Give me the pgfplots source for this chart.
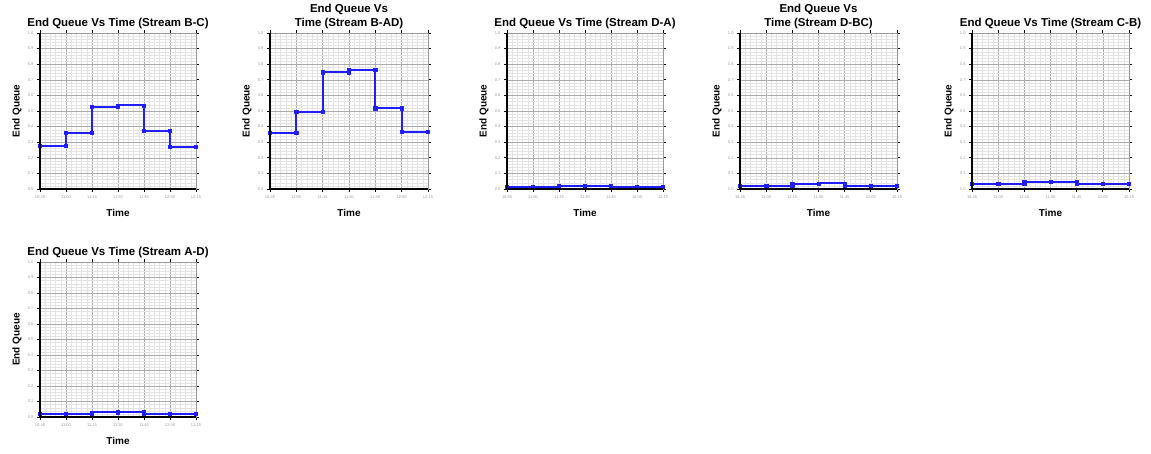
\documentclass[border=0pt]{standalone}
\usepackage{fontspec}
\setmainfont{Liberation Sans}
\usepackage{pgfplots}
\pgfplotsset{compat=1.18}
\definecolor{qblue}{RGB}{30,30,255}
\pgfplotsset{qstyle/.style={
  scale only axis, width=156pt, height=156pt,
  xmin=0, xmax=6, ymin=0, ymax=1,
  xtick={0,1,2,3,4,5,6},
  xticklabels={10:45,11:00,11:15,11:30,11:45,12:00,12:15},
  ytick={0,0.1,0.2,0.3,0.4,0.5,0.6,0.7,0.8,0.9,1.0},
  yticklabel style={/pgf/number format/.cd,fixed,fixed zerofill,precision=1},
  /pgf/number format/assume math mode=true,
  ticklabel style={font=\fontsize{4}{4}\selectfont, text=gray!80},
  minor x tick num=4, minor y tick num=4,
  grid=both,
  major grid style={gray!65, line width=0.5pt},
  minor grid style={gray!22, line width=0.4pt},
  tick align=outside, major tick length=3pt, minor tick length=0pt,
  tick style={black, line width=0.8pt},
  axis line style={gray!80, line width=0.6pt},
  title style={font=\bfseries\fontsize{11.5}{14}\selectfont, align=center,
    at={(0.5,1)}, anchor=south, inner sep=0pt, yshift=-2.5pt},
  xlabel={Time}, ylabel={End Queue},
  every axis x label/.style={at={(axis description cs:0.5,0)}, anchor=center,
    yshift=-24pt, font=\bfseries\fontsize{10}{12}\selectfont},
  every axis y label/.style={at={(axis description cs:0,0.5)}, xshift=-23pt,
    rotate=90, anchor=center, font=\bfseries\fontsize{10}{12}\selectfont},
  extra description/.code={\draw[black, line width=1.4pt] (0,1) -- (0,0) -- (1,0);},
},
qline/.style={draw=qblue, line width=2.1pt, line join=round, mark=square*, mark size=1.6pt,
  mark options={solid, fill=qblue, draw=qblue, line width=0.5pt}}}
\begin{document}
\begin{tikzpicture}
\useasboundingbox (0,0) rectangle (1151pt,453pt);
% Stream B-C
\begin{axis}[qstyle, at={(40pt,264pt)}, anchor=south west,
  title={End Queue Vs Time (Stream B-C)}]
\addplot[qline] coordinates {(0,0.278)(1,0.278)(1,0.361)(2,0.361)(2,0.528)(3,0.528)(3,0.536)(4,0.536)(4,0.372)(5,0.372)(5,0.271)(6,0.271)};
\end{axis}
% Stream B-AD
\begin{axis}[qstyle, width=158pt, at={(270pt,264pt)}, anchor=south west,
  title={End Queue Vs\\Time (Stream B-AD)}]
\addplot[qline] coordinates {(0,0.361)(1,0.361)(1,0.494)(2,0.494)(2,0.748)(3,0.748)(3,0.763)(4,0.763)(4,0.517)(5,0.517)(5,0.368)(6,0.368)};
\end{axis}
% Stream D-A
\begin{axis}[qstyle, at={(507pt,264pt)}, anchor=south west,
  title={End Queue Vs Time (Stream D-A)}]
\addplot[qline] coordinates {(0,0.012)(1,0.012)(1,0.012)(2,0.012)(2,0.022)(3,0.022)(3,0.022)(4,0.022)(4,0.012)(5,0.012)(5,0.012)(6,0.012)};
\end{axis}
% Stream D-BC
\begin{axis}[qstyle, width=157pt, at={(740pt,264pt)}, anchor=south west,
  title={End Queue Vs\\Time (Stream D-BC)}]
\addplot[qline] coordinates {(0,0.020)(1,0.020)(1,0.020)(2,0.020)(2,0.034)(3,0.034)(3,0.036)(4,0.036)(4,0.020)(5,0.020)(5,0.020)(6,0.020)};
\end{axis}
% Stream C-B
\begin{axis}[qstyle, width=157pt, at={(972pt,264pt)}, anchor=south west,
  title={End Queue Vs Time (Stream C-B)}]
\addplot[qline] coordinates {(0,0.032)(1,0.032)(1,0.032)(2,0.032)(2,0.045)(3,0.045)(3,0.047)(4,0.047)(4,0.032)(5,0.032)(5,0.032)(6,0.032)};
\end{axis}
% Stream A-D
\begin{axis}[qstyle, height=155pt, at={(40pt,36pt)}, anchor=south west,
  title={End Queue Vs Time (Stream A-D)}]
\addplot[qline] coordinates {(0,0.020)(1,0.020)(1,0.020)(2,0.020)(2,0.030)(3,0.030)(3,0.032)(4,0.032)(4,0.020)(5,0.020)(5,0.020)(6,0.020)};
\end{axis}
\end{tikzpicture}
\end{document}
